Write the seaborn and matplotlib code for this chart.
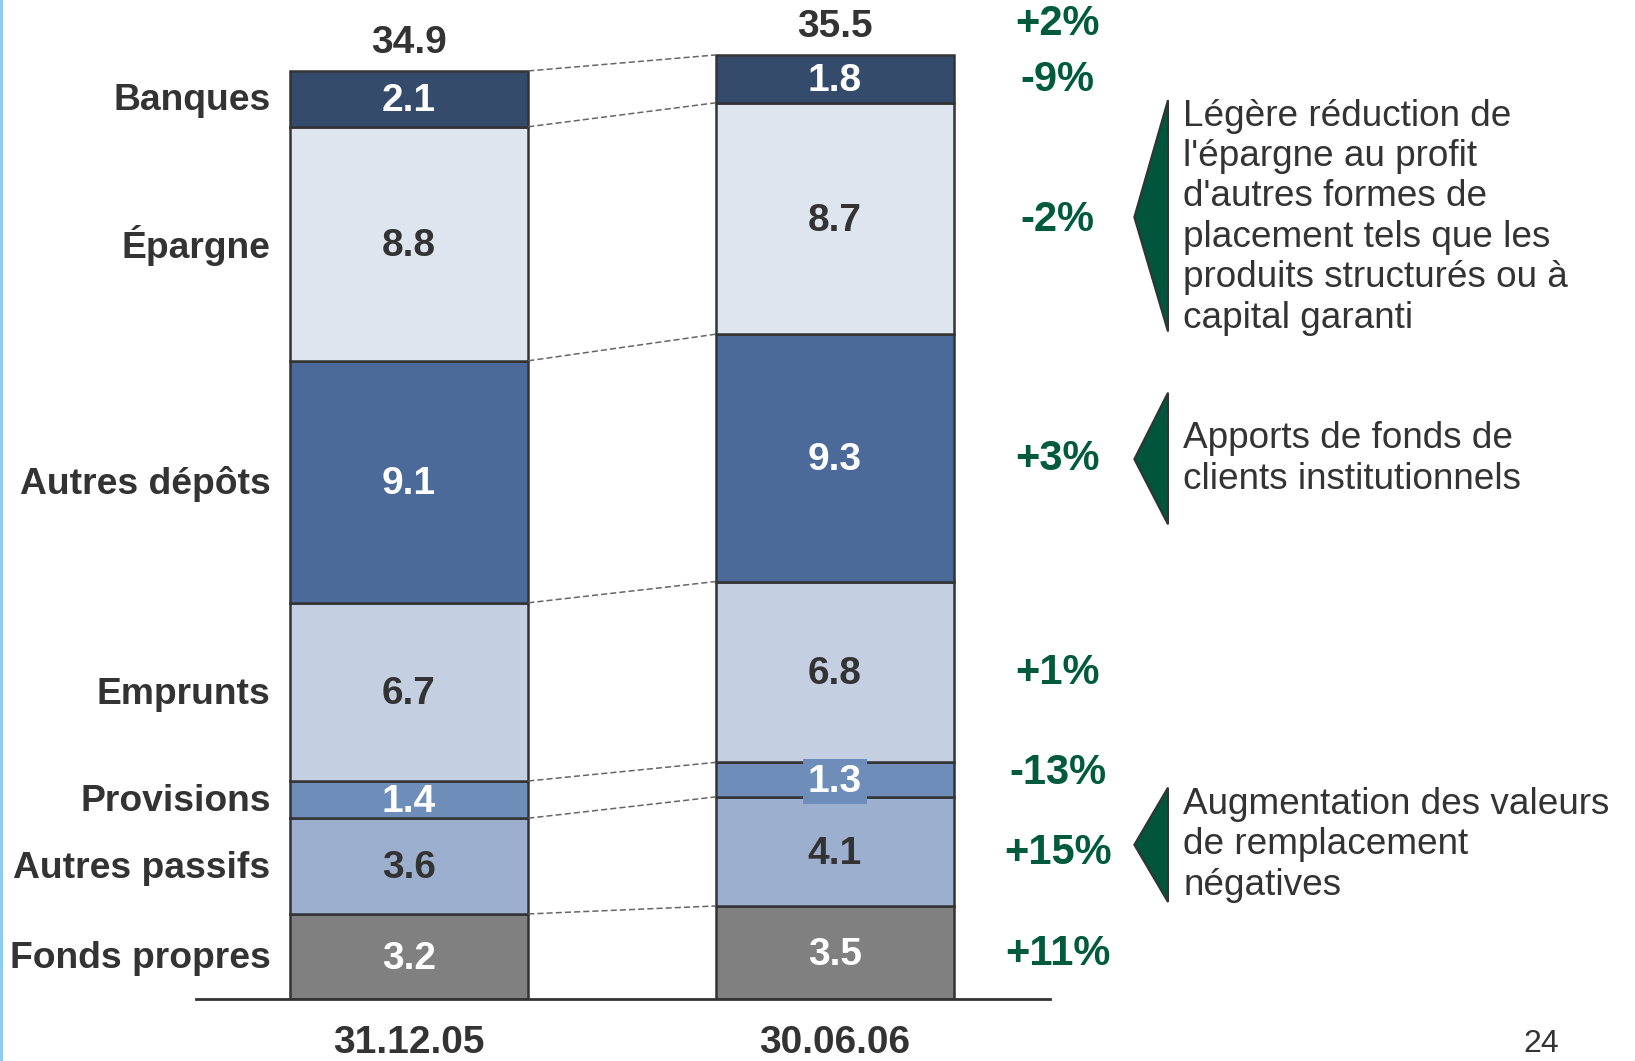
import matplotlib
matplotlib.use("Agg")
import matplotlib.pyplot as plt
from matplotlib import font_manager
from matplotlib.patches import Polygon, Rectangle
import seaborn as sns

# donnees (milliards)
dates = ['31.12.05', '30.06.06']
categories = ['Fonds propres', 'Autres passifs', 'Provisions', 'Emprunts',
              'Autres dépôts', 'Épargne', 'Banques']
valeurs_2005 = [3.2, 3.6, 1.4, 6.7, 9.1, 8.8, 2.1]
valeurs_2006 = [3.5, 4.1, 1.3, 6.8, 9.3, 8.7, 1.8]
totaux = [34.9, 35.5]
variations = ['+11%', '+15%', '-13%', '+1%', '+3%', '-2%', '-9%']
variation_total = '+2%'

commentaires = [
    "Légère réduction de\nl'épargne au profit\nd'autres formes de\nplacement tels que les\nproduits structurés ou à\ncapital garanti",
    "Apports de fonds de\nclients institutionnels",
    "Augmentation des valeurs\nde remplacement\nnégatives",
]
# (bas, haut, pointe) des triangles en milliards
zones = [(25.1, 33.8, 29.4), (17.85, 22.8, 20.3), (3.65, 7.95, 5.8)]

couleurs = ['#808080', '#9cafce', '#6e8db9', '#c4cfe1', '#4b6a99', '#dfe5ef', '#354b6c']
texte_blanc = [True, False, True, False, True, False, True]

sns.set_style('white')
plt.rcParams['font.family'] = ['Liberation Sans', 'DejaVu Sans']
noms = {f.name for f in font_manager.fontManager.ttflist}
police_dates = 'Liberation Sans Narrow' if 'Liberation Sans Narrow' in noms else 'Liberation Sans'

gris = '#333333'
vert = '#005a3c'

fig = plt.figure(figsize=(16.35, 10.61), dpi=100)
ax = fig.add_axes([0.1199, 0.0584, 0.5223, 0.9274])

largeur = 0.56
bas = [0.0, 0.0]
limites = [[0.0], [0.0]]
for i, cat in enumerate(categories):
    h = [valeurs_2005[i], valeurs_2006[i]]
    sns.barplot(x=dates, y=h, bottom=bas, color=couleurs[i], saturation=1,
                width=largeur, edgecolor=gris, linewidth=1.8, ax=ax)
    for j in range(2):
        milieu = bas[j] + h[j] / 2
        coul = 'white' if texte_blanc[i] else gris
        bbox = None
        if cat == 'Provisions' and j == 1:
            bbox = dict(boxstyle='square,pad=0.12', fc=couleurs[i], ec='none')
        ax.text(j, milieu - 0.08, f'{h[j]:.1f}', ha='center', va='center', fontsize=28,
                fontweight='bold', color=coul, bbox=bbox, zorder=5)
    # libelle de categorie a gauche
    ax.text(-0.325, bas[0] + valeurs_2005[i] / 2 - 0.08, cat, ha='right', va='center',
            fontsize=26.8, fontweight='bold', color=gris, clip_on=False)
    # variation en vert a droite
    y_var = bas[1] + valeurs_2006[i] / 2
    if cat == 'Provisions':
        y_var += 0.3
    ax.text(1.523, y_var - 0.05, variations[i], ha='center', va='center', fontsize=30,
            fontweight='bold', color=vert, clip_on=False)
    bas = [bas[0] + h[0], bas[1] + h[1]]
    limites[0].append(bas[0])
    limites[1].append(bas[1])

# totaux
for j, t in enumerate(totaux):
    ax.text(j, t + 1.05, f'{t:.1f}', ha='center', va='center', fontsize=28,
            fontweight='bold', color=gris, clip_on=False)
ax.text(1.523, totaux[1] + 1.15, variation_total, ha='center', va='center',
        fontsize=30, fontweight='bold', color=vert, clip_on=False)

# lignes pointillees entre les barres
for y0, y1 in zip(limites[0][1:], limites[1][1:]):
    ax.plot([largeur / 2, 1 - largeur / 2], [y0, y1], ls=(0, (4, 2)), lw=1.1,
            color='#666666', zorder=1)

# triangles et commentaires
for (y_bas, y_haut, y_pointe), txt in zip(zones, commentaires):
    tri = Polygon([[1.782, y_bas], [1.782, y_haut], [1.703, y_pointe]], closed=True,
                  fc='#00553a', ec=gris, lw=1.5, clip_on=False)
    ax.add_patch(tri)
    ax.text(1.818, y_pointe, txt, ha='left', va='center', fontsize=26.6,
            color=gris, linespacing=1.2, clip_on=False)

ax.set_xlim(-0.5, 1.505)
ax.set_ylim(0, 37)
ax.set_yticks([])
ax.set_ylabel('')
sns.despine(ax=ax, left=True, top=True, right=True)
ax.spines['bottom'].set_color(gris)
ax.spines['bottom'].set_linewidth(2)
ax.tick_params(axis='x', length=0, pad=19)
ax.set_xticks([0, 1])
ax.set_xticklabels(dates, fontsize=28, fontweight='bold', color=gris, family=police_dates)

# numero de page et filet bleu a gauche
fig.text(0.9425, 0.0015, '24', ha='center', va='bottom', fontsize=23, color=gris)
fig.add_artist(Rectangle((0, 0), 0.002, 1, transform=fig.transFigure,
                         fc='#8ecbf0', ec='none'))

fig.savefig('out.png', dpi=100)
